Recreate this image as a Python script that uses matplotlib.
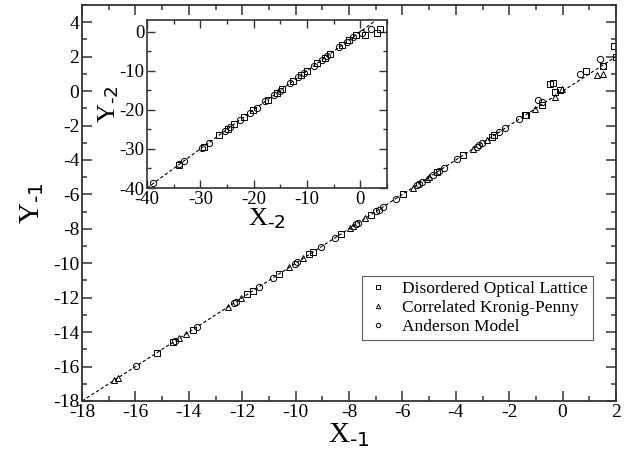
import matplotlib
matplotlib.use("Agg")
import matplotlib.pyplot as plt
from matplotlib.ticker import MultipleLocator

plt.rcParams['font.family'] = ['Liberation Serif', 'DejaVu Serif']
plt.rcParams['mathtext.default'] = 'regular'
plt.rcParams['axes.unicode_minus'] = False

# main panel data
sq_x = [-15.2, -14.6, -13.85, -11.81, -11.6, -10.63, -9.49, -9.34, -8.31, -7.19,
        -5.99, -4.72, -3.72, -2.66, -2.57, -1.41, -1.37, -0.78, -0.47, -0.37,
        -0.28, -0.10, 0.88, 1.50, 1.93, 2.0]
sq_y = [-15.2, -14.6, -13.85, -11.81, -11.6, -10.63, -9.49, -9.34, -8.31, -7.19,
        -5.99, -4.72, -3.72, -2.66, -2.57, -1.41, -1.37, -0.82, 0.44, 0.47,
        -0.05, 0.05, 1.17, 1.44, 2.60, 1.98]

tri_x = [-16.81, -16.65, -14.35, -14.1, -12.53, -12.03, -10.24, -9.71, -7.96, -7.86,
         -7.40, -5.62, -5.09, -5.0, -3.34, -2.84, -1.03, -0.28, -0.03, 1.28, 1.52]
tri_y = [-16.81, -16.65, -14.35, -14.1, -12.53, -12.03, -10.24, -9.71, -7.96, -7.86,
         -7.40, -5.62, -5.09, -5.0, -3.34, -2.84, -1.03, -0.34, 0.15, 0.92, 1.02]

cir_x = [-15.98, -14.5, -13.68, -12.31, -12.23, -11.38, -10.86, -10.02, -9.94, -9.06,
         -8.52, -7.74, -7.66, -6.99, -6.89, -6.74, -6.24, -5.47, -5.37, -5.27,
         -4.87, -4.62, -4.44, -3.94, -3.22, -3.12, -3.03, -2.37, -2.16, -1.62,
         -0.91, -0.78, 0.65, 1.40, 1.50]
cir_y = [-15.98, -14.5, -13.68, -12.31, -12.23, -11.38, -10.86, -10.02, -9.94, -9.06,
         -8.52, -7.74, -7.66, -6.99, -6.89, -6.74, -6.24, -5.47, -5.37, -5.27,
         -4.87, -4.62, -4.44, -3.94, -3.22, -3.12, -3.03, -2.37, -2.16, -1.62,
         -0.53, -0.63, 0.98, 1.89, 1.44]

# inset data
in_cir_x = [-38.9, -34.06, -33.1, -29.7, -28.4, -25.3, -24.37, -22.5, -20.7, -19.4,
            -17.8, -16.2, -15.1, -13.1, -11.7, -10.6, -8.7, -7.2, -6.2, -4.0,
            -2.5, -1.35, 0.3, 2.0]
in_cir_y = [-38.6, -33.9, -33.0, -29.7, -28.4, -25.3, -24.37, -22.5, -20.7, -19.4,
            -17.8, -16.2, -15.1, -13.1, -11.7, -10.6, -8.7, -7.2, -6.2, -4.0,
            -2.5, -1.35, -0.4, 0.6]
in_sq_x = [-34.0, -29.4, -26.55, -24.86, -23.6, -21.86, -20.1, -17.35, -15.6, -14.7,
           -12.6, -11.1, -10.0, -8.1, -6.7, -5.6, -3.4, -2.2, -0.9, 0.96, 3.1, 3.75]
in_sq_y = [-34.0, -29.4, -26.55, -24.86, -23.6, -21.86, -20.1, -17.35, -15.6, -14.7,
           -12.6, -11.1, -10.0, -8.1, -6.7, -5.6, -3.4, -2.2, -0.9, -0.85, -0.25, 0.6]

line_main = [-18, 2]
line_inset = [-40, 3]

fig = plt.figure(figsize=(6.41, 4.59), dpi=100)
ax = fig.add_axes([0.128, 0.1264, 0.833, 0.8627])

mk = dict(linestyle='none', mfc='none', mec='black', mew=0.7, ms=4.5)
ax.plot(line_main, line_main, color='black', lw=0.8, ls=(0, (3, 2)))
ax.plot(sq_x, sq_y, marker='s', label='Disordered Optical Lattice', **mk)
ax.plot(tri_x, tri_y, marker='^', label='Correlated Kronig-Penny', **mk)
ax.plot(cir_x, cir_y, marker='o', label='Anderson Model', **mk)

ax.set_xlim(-18, 2)
ax.set_ylim(-18, 5)
ax.xaxis.set_major_locator(MultipleLocator(2))
ax.xaxis.set_minor_locator(MultipleLocator(1))
ax.yaxis.set_major_locator(MultipleLocator(2))
ax.yaxis.set_minor_locator(MultipleLocator(1))
ax.tick_params(which='both', direction='in', top=True, right=True, labelsize=14, color='#333', pad=2)
ax.tick_params(which='major', length=7, width=1.1)
ax.tick_params(which='minor', length=3.5, width=1.1)
for s in ax.spines.values():
    s.set_linewidth(1.3)
    s.set_color('#333')
ax.set_xlabel(r'X$_{\text{-1}}$', fontsize=21, labelpad=1)
ax.set_ylabel(r'Y$_{\text{-1}}$', fontsize=21, labelpad=5)

leg = ax.legend(loc='lower right', bbox_to_anchor=(0.957, 0.154), borderaxespad=0,
                fontsize=12.5, frameon=True, fancybox=False, edgecolor='#333',
                handlelength=1.2, handletextpad=0.8, borderpad=0.3,
                labelspacing=0.15, markerscale=0.7)
leg.get_frame().set_linewidth(0.8)

# inset
ins = fig.add_axes([0.2293, 0.5904, 0.3744, 0.366])
ins.plot(line_inset, line_inset, color='black', lw=0.8, ls=(0, (3, 2)))
ins.plot(in_sq_x, in_sq_y, marker='s', **mk)
ins.plot(in_cir_x, in_cir_y, marker='o', **mk)
ins.set_xlim(-40, 5)
ins.set_ylim(-40, 3)
ins.xaxis.set_major_locator(MultipleLocator(10))
ins.xaxis.set_minor_locator(MultipleLocator(5))
ins.yaxis.set_major_locator(MultipleLocator(10))
ins.yaxis.set_minor_locator(MultipleLocator(5))
ins.tick_params(which='both', direction='in', top=True, right=True, labelsize=13.5, color='#333', pad=2)
ins.tick_params(which='major', length=6, width=1.0)
ins.tick_params(which='minor', length=3, width=1.0)
for s in ins.spines.values():
    s.set_linewidth(1.2)
    s.set_color('#333')
ins.set_xlabel(r'X$_{\text{-2}}$', fontsize=19, labelpad=-1)
ins.set_ylabel(r'Y$_{\text{-2}}$', fontsize=19, labelpad=-1)

fig.savefig('out.png', dpi=100)
